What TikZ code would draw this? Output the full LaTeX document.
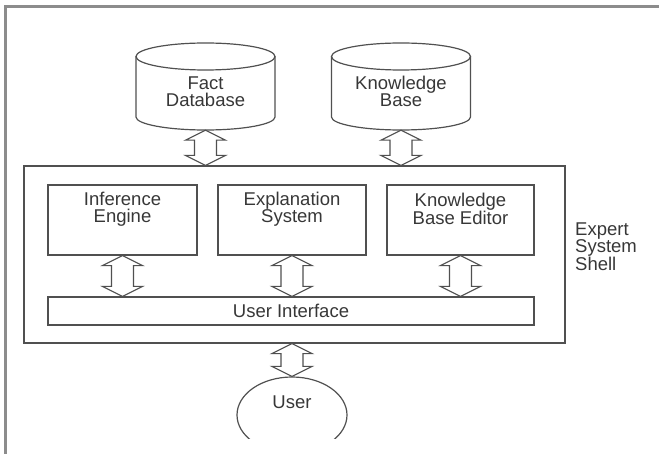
\documentclass[tikz,border=0pt]{standalone}
\usepackage{fontspec}
\setmainfont{Liberation Sans}
\usetikzlibrary{calc,shapes.geometric}
\definecolor{linecol}{RGB}{80,80,80}
\definecolor{txtcol}{RGB}{55,55,55}
\definecolor{framecol}{RGB}{140,140,140}
\tikzset{
  shapeline/.style={draw=linecol, line width=1.2pt},
  boxnode/.style={shapeline, rectangle, inner sep=0pt, fill=none},
  txt/.style={inner sep=0pt, text=txtcol, align=center, font=\fontsize{18.5}{17}\selectfont},
  conn/.style={draw=linecol, line width=1.1pt, line join=miter, fill=white},
}
\newcommand{\dblarrow}[2]{%
  \draw[conn] let \p1=(#1), \p2=(#2) in
    (\x1,\y1) -- (\x1-20pt,\y1-10pt) -- (\x1-11pt,\y1-10pt) -- (\x1-11pt,\y2+10pt)
    -- (\x1-20pt,\y2+10pt) -- (\x1,\y2) -- (\x1+20pt,\y2+10pt) -- (\x1+11pt,\y2+10pt)
    -- (\x1+11pt,\y1-10pt) -- (\x1+20pt,\y1-10pt) -- cycle;}
\newcommand{\cylshape}[1]{%
  \draw[shapeline] (#1,56.5) ellipse [x radius=69.5pt, y radius=13.5pt];
  \draw[shapeline] (#1-69.5,56.5) -- (#1-69.5,117)
     arc [start angle=180, end angle=360, x radius=69.5pt, y radius=13pt]
     -- (#1+69.5,56.5);}
\begin{document}
\begin{tikzpicture}[x=1pt,y=-1pt]
\useasboundingbox (0,0) rectangle (659,454);
% frame
\draw[framecol, line width=3pt] (5,454) -- (5,7) -- (659,7);

% cylinders
\cylshape{205.5}
\cylshape{401}
\node[inner sep=0pt, minimum width=139pt, minimum height=87pt] (factcyl) at (205.5,86.5) {};
\node[inner sep=0pt, minimum width=139pt, minimum height=87pt] (kbcyl) at (401,86.5) {};
\node[txt] (facttxt) at (205.5,91.5) {Fact\\Database};
\node[txt] (kbtxt) at (401,91.5) {Knowledge\\Base};

% outer shell
\node[boxnode, minimum width=541pt, minimum height=177pt] (outer) at (294.5,254.5) {};
\node[txt, align=left, anchor=west] (shell) at (575,246.5) {Expert\\System\\Shell};

% inner boxes
\node[boxnode, minimum width=149pt, minimum height=70pt] (inf) at (122.5,220) {};
\node[boxnode, minimum width=148pt, minimum height=70pt] (expl) at (292,220) {};
\node[boxnode, minimum width=147pt, minimum height=70pt] (kbe) at (460.5,220) {};
\node[txt] (inftxt) at (122.5,209) {Inference\\Engine};
\node[txt] (expltxt) at (292,209) {Explanation\\System};
\node[txt] (kbetxt) at (460.5,209) {Knowledge\\Base Editor};

% user interface
\node[boxnode, minimum width=486pt, minimum height=28pt] (ui) at (291,311) {};
\node[txt] (uitxt) at (291,311) {User Interface};

% user
\begin{scope}
  \clip (200,370) rectangle (400,438);
  \node[shapeline, ellipse, inner sep=0pt, minimum width=110pt, minimum height=76pt] (user) at (292,415) {};
\end{scope}
\node[txt] (usertxt) at (292,402) {User};

% connectors
\dblarrow{factcyl.south}{outer.north}
\dblarrow{kbcyl.south}{outer.north}
\dblarrow{inf.south}{ui.north}
\dblarrow{expl.south}{ui.north}
\dblarrow{kbe.south}{ui.north}
\dblarrow{user.north |- outer.south}{user.north}
\end{tikzpicture}
\end{document}
